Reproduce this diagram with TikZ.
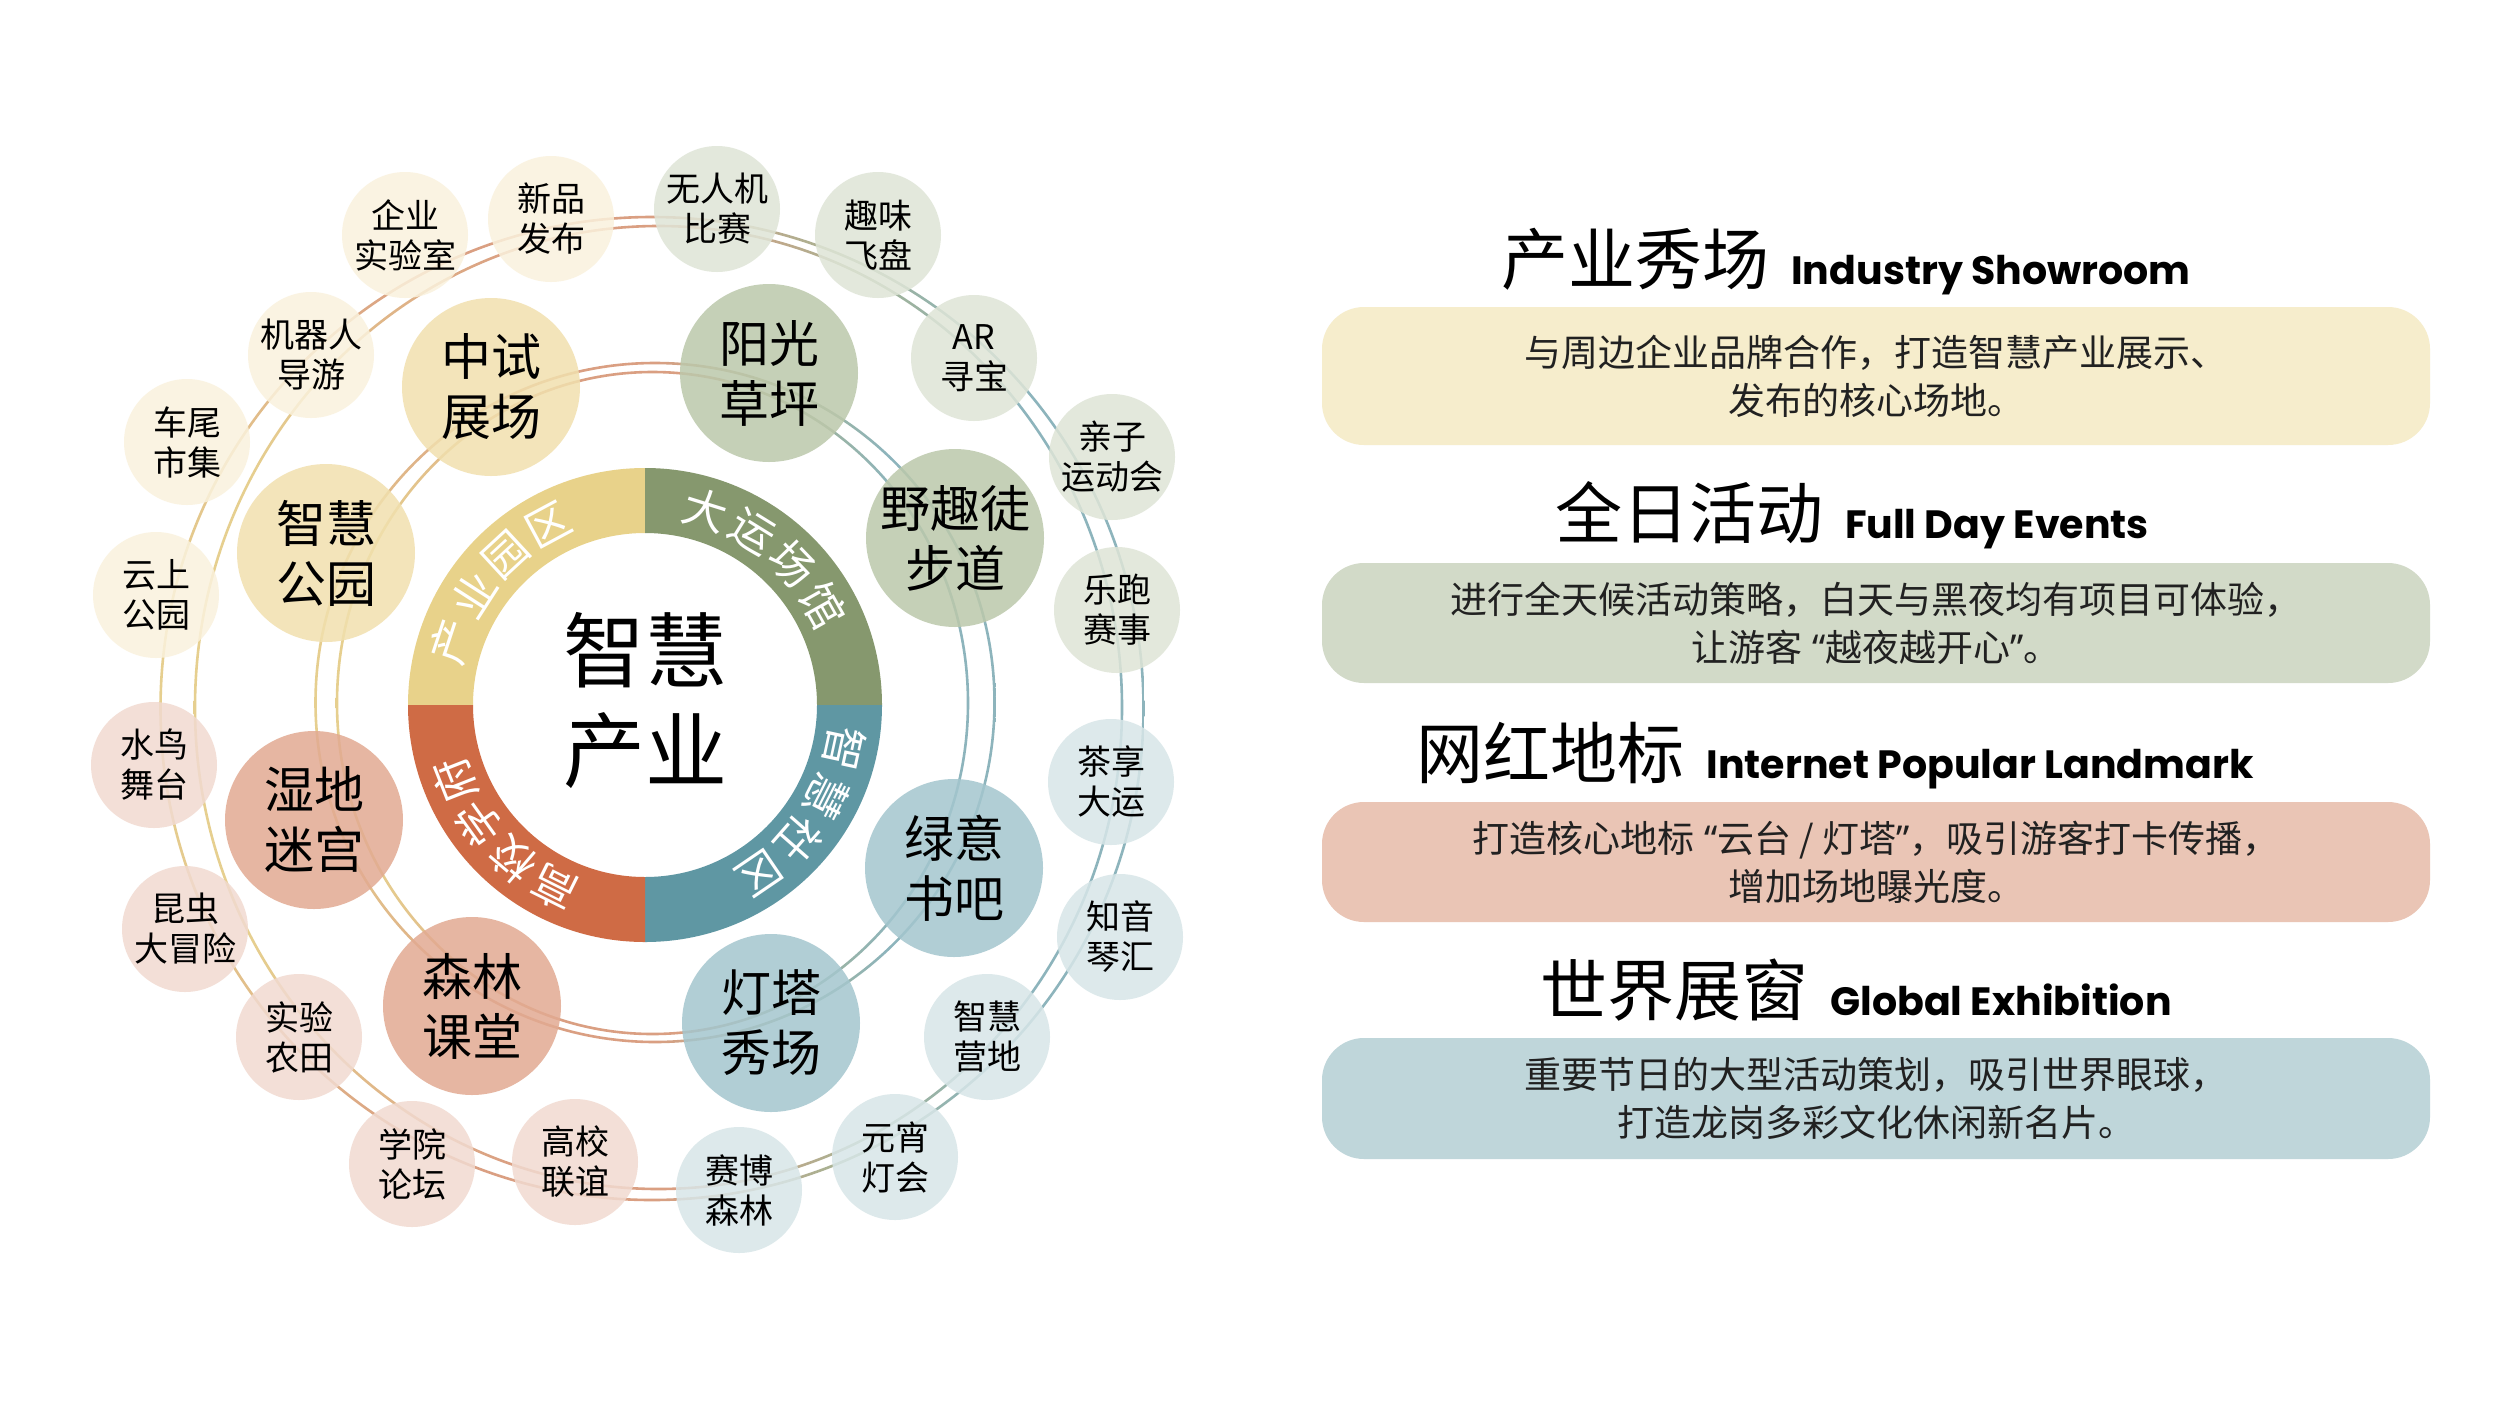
\documentclass[tikz,border=0pt]{standalone}
\usepackage{fontspec}
\setmainfont{Noto Sans CJK SC}
\newfontfamily\titlefont{Poppins}
\newfontfamily\quotefont{Noto Sans}
\definecolor{ringyel}{HTML}{E8D28A}
\definecolor{ringgrn}{HTML}{86986E}
\definecolor{ringtea}{HTML}{5F97A3}
\definecolor{ringora}{HTML}{CF6B45}
\definecolor{dotyel}{HTML}{F1E0AE}
\definecolor{dotyellt}{HTML}{FAF2DD}
\definecolor{dotgrn}{HTML}{BCC8AB}
\definecolor{dotgrnlt}{HTML}{DFE5D7}
\definecolor{dottea}{HTML}{A4C6CE}
\definecolor{dottealt}{HTML}{D8E6E8}
\definecolor{dotora}{HTML}{E2AA92}
\definecolor{dotoralt}{HTML}{F1DAD0}
\definecolor{boxyel}{HTML}{F6EDCC}
\definecolor{boxgrn}{HTML}{D2DAC8}
\definecolor{boxora}{HTML}{EAC5B5}
\definecolor{boxtea}{HTML}{BFD6DA}
\definecolor{lnyel}{HTML}{E6CF8F}
\definecolor{lnora}{HTML}{DA9F82}
\definecolor{lngrn}{HTML}{A4B394}
\definecolor{lntea}{HTML}{8DB4BC}
\pgfdeclarehorizontalshading{ringlinea}{100bp}{color(0bp)=(lnyel); color(25bp)=(lnyel); color(38bp)=(lnora); color(50bp)=(lnora); color(60bp)=(lngrn); color(67bp)=(lntea); color(100bp)=(lntea)}
\pgfdeclarehorizontalshading{ringlineb}{100bp}{color(0bp)=(lnyel); color(28bp)=(lnyel); color(42bp)=(lnora); color(52bp)=(lnora); color(61bp)=(lngrn); color(69bp)=(lntea); color(100bp)=(lntea)}
\tikzset{
  bigdot/.style={circle,minimum size=178pt,inner sep=-5pt,fill opacity=0.85,text opacity=1,align=center,font=\fontsize{50}{60}\selectfont},
  smalldot/.style={circle,minimum size=126pt,inner sep=-5pt,fill opacity=0.85,text opacity=1,align=center,font=\fontsize{34}{40}\selectfont},
  ringword/.style={inner sep=0pt,text=white,font=\fontsize{44}{44}\selectfont},
  infobox/.style={rounded corners=42pt,minimum width=1108pt,inner sep=0pt,align=center,text=black!87,font=\fontsize{37}{48}\selectfont},
  headline/.style={anchor=base,inner sep=0pt}
}
\newcommand{\zhhead}[1]{{\fontsize{67}{70}\selectfont #1}}
\newcommand{\enhead}[1]{{\titlefont\bfseries\fontsize{39.5}{42}\selectfont #1}}
\newcommand{\openq}{\hspace{10pt}{\quotefont “}}
\newcommand{\closeq}{{\quotefont ”}}

\begin{document}
\begin{tikzpicture}[x=1pt,y=-1pt]
\path[use as bounding box] (0,0) rectangle (2500,1406);
\fill[white] (0,0) rectangle (2500,1406);
\shade[shading=ringlinea,even odd rule] (652,708.5) circle[radius=492.8] (652,708.5) circle[radius=490.2];
\shade[shading=ringlineb,even odd rule] (658.5,707.5) ellipse[x radius=464.8,y radius=482.8] (658.5,707.5) ellipse[x radius=462.2,y radius=480.2];
\shade[shading=ringlinea,even odd rule] (655,702.5) circle[radius=340.8] (655,702.5) circle[radius=338.2];
\shade[shading=ringlineb,even odd rule] (652.5,703) ellipse[x radius=316.8,y radius=332.3] (652.5,703) ellipse[x radius=314.2,y radius=329.7];
\fill[ringyel] (645,468) arc[start angle=-90,end angle=-180,radius=237] -- (473,705) arc[start angle=180,end angle=270,radius=172] -- cycle;
\fill[ringgrn] (645,468) arc[start angle=-90,end angle=0,radius=237] -- (817,705) arc[start angle=0,end angle=-90,radius=172] -- cycle;
\fill[ringtea] (882,705) arc[start angle=0,end angle=90,radius=237] -- (645,877) arc[start angle=90,end angle=0,radius=172] -- cycle;
\fill[ringora] (645,942) arc[start angle=90,end angle=180,radius=237] -- (473,705) arc[start angle=180,end angle=90,radius=172] -- cycle;
\node[ringword,rotate=71.75] (ya1) at (451.3,641.1) {产};
\node[ringword,rotate=57.25] (ya2) at (473.4,594.6) {业};
\node[ringword,rotate=42.75] (ya3) at (506.5,555.2) {园};
\node[ringword,rotate=28.25] (ya4) at (548.4,525.3) {区};
\node[ringword,rotate=-17.25] (gr1) at (705.5,510.2) {大};
\node[ringword,rotate=-31.75] (gr2) at (752.3,531.5) {运};
\node[ringword,rotate=-46.25] (gr3) at (792.4,563.9) {场};
\node[ringword,rotate=-60.75] (gr4) at (823.0,605.3) {馆};
\node[ringword,rotate=-102.25] (te1) at (844.4,748.3) {智};
\node[ringword,rotate=-116.75] (te2) at (827.2,796.8) {慧};
\node[ringword,rotate=-131.25] (te3) at (798.4,839.5) {社};
\node[ringword,rotate=-145.75] (te4) at (759.8,873.6) {区};
\node[ringword,rotate=-206.5] (or1) at (554.0,887.6) {高};
\node[ringword,rotate=-220.5] (or2) at (512.5,860.1) {校};
\node[ringword,rotate=-234.5] (or3) at (478.9,823.5) {学};
\node[ringword,rotate=-248.5] (or4) at (455.2,779.8) {府};
\node[inner sep=0pt,align=center,font=\fontsize{82}{100}\selectfont] (core) at (645,700) {智慧\\产业};
\node[bigdot,fill=dotyel] (zhongshi) at (491,387) {中试\\展场};
\node[bigdot,fill=dotgrn] (yangguang) at (769,373) {阳光\\草坪};
\node[bigdot,fill=dotgrn] (yequ) at (955,538) {野趣徒\\步道};
\node[bigdot,fill=dottea] (lvyi) at (954,868) {绿意\\书吧};
\node[bigdot,fill=dottea] (dengta) at (771,1023) {灯塔\\秀场};
\node[bigdot,fill=dotora] (senlin) at (472,1006) {森林\\课堂};
\node[bigdot,fill=dotora] (shidi) at (314,820) {湿地\\迷宫};
\node[bigdot,fill=dotyel] (zhgongyuan) at (326,553) {智慧\\公园};
\node[smalldot,fill=dotyellt] (qiye) at (405,235) {企业\\实验室};
\node[smalldot,fill=dotyellt] (xinpin) at (551,219) {新品\\发布};
\node[smalldot,fill=dotgrnlt] (wurenji) at (717,209) {无人机\\比赛};
\node[smalldot,fill=dotgrnlt] (quwei) at (878,235) {趣味\\飞盘};
\node[smalldot,fill=dotgrnlt] (xunbao) at (974,358) {AR\\寻宝};
\node[smalldot,fill=dotgrnlt] (qinzi) at (1112,457) {亲子\\运动会};
\node[smalldot,fill=dotgrnlt] (lepao) at (1117,610) {乐跑\\赛事};
\node[smalldot,fill=dottealt] (chaxiang) at (1111,782) {茶享\\大运};
\node[smalldot,fill=dottealt] (zhiyin) at (1120,937) {知音\\琴汇};
\node[smalldot,fill=dottealt] (zhyingdi) at (987,1037) {智慧\\营地};
\node[smalldot,fill=dottealt] (yuanxiao) at (895,1157) {元宵\\灯会};
\node[smalldot,fill=dottealt] (saibo) at (739,1190) {赛博\\森林};
\node[smalldot,fill=dotoralt] (gaoxiao) at (575,1162) {高校\\联谊};
\node[smalldot,fill=dotoralt] (xueyuan) at (412,1164) {学院\\论坛};
\node[smalldot,fill=dotoralt] (nongtian) at (299,1037) {实验\\农田};
\node[smalldot,fill=dotoralt] (kunchong) at (185,929) {昆虫\\大冒险};
\node[smalldot,fill=dotoralt] (shuiniao) at (154,765) {水鸟\\舞台};
\node[smalldot,fill=dotyellt] (yunshang) at (156,595) {云上\\公园};
\node[smalldot,fill=dotyellt] (chewei) at (187,442) {车尾\\市集};
\node[smalldot,fill=dotyellt] (jiqiren) at (311,355) {机器人\\导游};
\node[headline] (showtitle) at (1846,284) {\zhhead{产业秀场}\hspace{22pt}\enhead{Industry Showroom}};
\node[infobox,fill=boxyel,minimum height=138pt] (showbox) at (1876,376) {与周边企业品牌合作，打造智慧产业展示、\\发布的核心场地。};
\node[headline] (daytitle) at (1852,538) {\zhhead{全日活动}\hspace{22pt}\enhead{Full Day Events}};
\node[infobox,fill=boxgrn,minimum height=120pt] (daybox) at (1876,623) {进行全天候活动策略，白天与黑夜均有项目可体验，\\让游客\openq 越夜越开心\closeq 。};
\node[headline] (landtitle) at (1835,778) {\zhhead{网红地标}\hspace{22pt}\enhead{Internet Popular Landmark}};
\node[infobox,fill=boxora,minimum height=120pt] (landbox) at (1876,862) {打造核心地标\openq 云台 / 灯塔\closeq ，吸引游客打卡传播，\\增加场地曝光度。};
\node[headline] (worldtitle) at (1856,1015) {\zhhead{世界展窗}\hspace{22pt}\enhead{Global Exhibition}};
\node[infobox,fill=boxtea,minimum height=121pt] (worldbox) at (1876,1098.5) {重要节日的大型活动策划，吸引世界眼球，\\打造龙岗多彩文化休闲新名片。};
\end{tikzpicture}
\end{document}
